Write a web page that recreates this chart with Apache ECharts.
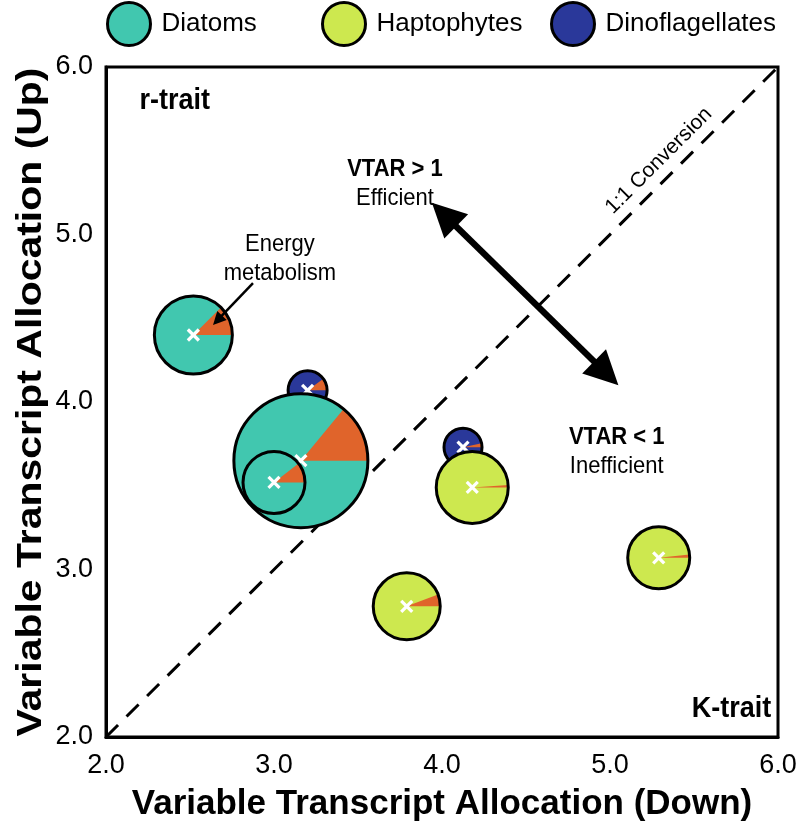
<!DOCTYPE html>
<html><head><meta charset="utf-8">
<script src="https://cdn.jsdelivr.net/npm/echarts@6/dist/echarts.min.js"></script>
<style>html,body{margin:0;padding:0;background:#fff}#c{width:802px;height:831px}</style>
</head><body><div id="c"></div>
<script>
// ---------- data ----------
const groups = ['Diatoms', 'Haptophytes', 'Dinoflagellates'];
const axisTicks = [2.0, 3.0, 4.0, 5.0, 6.0];
const xTitle = 'Variable Transcript Allocation (Down)';
const yTitle = 'Variable Transcript Allocation (Up)';

const diatomDown   = [2.52, 3.16, 3.00];
const diatomUp     = [4.40, 3.65, 3.52];
const diatomSize   = [3.9, 6.7, 3.1];      // relative bubble size
const diatomEnergy = [0.125, 0.14, 0.105]; // energy metabolism share

const haptoDown    = [4.18, 3.79, 5.29];
const haptoUp      = [3.49, 2.78, 3.07];
const haptoSize    = [3.6, 3.35, 3.1];
const haptoEnergy  = [0.011, 0.058, 0.017];

const dinoDown     = [3.20, 4.125];
const dinoUp       = [4.07, 3.73];
const dinoSize     = [1.95, 1.9];
const dinoEnergy   = [0.10, 0.033];

const diagonal = [[2, 2], [6, 6]];
const vtarArrow = [[3.94, 5.19], [5.05, 4.10]];
const energyArrow = [[2.875, 4.71], [2.637, 4.46]];

// annotations: [x, y, text, kind]
const annotations = [
  [2.20, 5.80, 'r-trait', 'boldLeft'],
  [5.96, 2.17, 'K-trait', 'boldRight'],
  [3.72, 5.39, 'VTAR > 1', 'boldCenter'],
  [3.72, 5.215, 'Efficient', 'center'],
  [5.04, 3.79, 'VTAR < 1', 'boldCenter'],
  [5.04, 3.615, 'Inefficient', 'center'],
  [3.035, 4.94, 'Energy', 'center'],
  [3.035, 4.77, 'metabolism', 'center'],
  [5.29, 5.44, '1:1 Conversion', 'rot45']
];

// ---------- styles ----------
const FONT = "'Liberation Sans', Arial, Helvetica, sans-serif";
const COLORS = { Diatoms: '#41C7AF', Haptophytes: '#CDE84F', Dinoflagellates: '#2A389A' };
const ORANGE = '#E0642B';
const RADIUS_UNIT = 10;

function zip(xs, ys, ss, es) { return xs.map((x, i) => [x, ys[i], ss[i], es[i]]); }

function bubbleRender(color) {
  return function (params, api) {
    const p = api.coord([api.value(0), api.value(1)]);
    const r = api.value(2) * RADIUS_UNIT;
    const ang = api.value(3) * 2 * Math.PI;
    const cs = 5.5;
    return {
      type: 'group', children: [
        { type: 'circle', shape: { cx: p[0], cy: p[1], r: r }, style: { fill: color } },
        { type: 'sector', shape: { cx: p[0], cy: p[1], r: r, r0: 0, startAngle: -ang, endAngle: 0, clockwise: true }, style: { fill: ORANGE } },
        { type: 'circle', shape: { cx: p[0], cy: p[1], r: r }, style: { fill: 'none', stroke: '#000', lineWidth: 3 } },
        { type: 'line', shape: { x1: p[0] - cs, y1: p[1] - cs, x2: p[0] + cs, y2: p[1] + cs }, style: { stroke: '#fff', lineWidth: 3.2 } },
        { type: 'line', shape: { x1: p[0] - cs, y1: p[1] + cs, x2: p[0] + cs, y2: p[1] - cs }, style: { stroke: '#fff', lineWidth: 3.2 } }
      ]
    };
  };
}

function arrowHead(tip, from, len, half) {
  const dx = tip[0] - from[0], dy = tip[1] - from[1];
  const L = Math.sqrt(dx * dx + dy * dy);
  const ux = dx / L, uy = dy / L;
  const bx = tip[0] - ux * len, by = tip[1] - uy * len;
  return [[tip[0], tip[1]], [bx - uy * half, by + ux * half], [bx + uy * half, by - ux * half]];
}

function arrowRender(both, lw, len, half) {
  return function (params, api) {
    if (params.dataIndex !== 0) return null;
    const a = api.coord(both ? vtarArrow[0] : energyArrow[0]);
    const b = api.coord(both ? vtarArrow[1] : energyArrow[1]);
    const dx = b[0] - a[0], dy = b[1] - a[1];
    const L = Math.sqrt(dx * dx + dy * dy);
    const ux = dx / L, uy = dy / L;
    const s = both ? [a[0] + ux * len * 0.8, a[1] + uy * len * 0.8] : a;
    const e = [b[0] - ux * len * 0.8, b[1] - uy * len * 0.8];
    const children = [
      { type: 'line', shape: { x1: s[0], y1: s[1], x2: e[0], y2: e[1] }, style: { stroke: '#000', lineWidth: lw } },
      { type: 'polygon', shape: { points: arrowHead(b, a, len, half) }, style: { fill: '#000' } }
    ];
    if (both) children.push({ type: 'polygon', shape: { points: arrowHead(a, b, len, half) }, style: { fill: '#000' } });
    return { type: 'group', children: children };
  };
}

function annotationRender(params, api) {
  const row = annotations[params.dataIndex];
  const p = api.coord([row[0], row[1]]);
  const kind = row[3];
  const bold = kind.indexOf('bold') === 0;
  let align = 'center';
  if (kind === 'boldLeft') align = 'left';
  if (kind === 'boldRight') align = 'right';
  let size = 22;
  if (kind === 'boldLeft' || kind === 'boldRight') size = 27;
  if (kind === 'rot45') size = 21;
  const style = {
    text: row[2], x: 0, y: 0, fill: '#000',
    font: (bold ? 'bold ' : '') + size + 'px ' + FONT,
    align: align, verticalAlign: 'middle'
  };
  return { type: 'text', x: p[0], y: p[1], rotation: kind === 'rot45' ? Math.PI / 4 : 0,
    scaleY: kind === 'rot45' ? 1 : 1.08, style: style };
}

const chart = echarts.init(document.getElementById('c'), null, { renderer: 'canvas' });

const legendBase = {
  icon: 'circle', itemWidth: 43, itemHeight: 43, top: 1, padding: 0,
  itemStyle: { borderColor: '#000', borderWidth: 3 },
  textStyle: { fontSize: 26, color: '#000', fontFamily: FONT, padding: [0, 0, 0, 6] },
  selectedMode: false
};

chart.setOption({
  animation: false,
  backgroundColor: '#fff',
  textStyle: { fontFamily: FONT },
  legend: [
    Object.assign({}, legendBase, { data: [groups[0]], left: 106 }),
    Object.assign({}, legendBase, { data: [groups[1]], left: 321 }),
    Object.assign({}, legendBase, { data: [groups[2]], left: 550 })
  ],
  graphic: [{
    type: 'text', x: 31, y: 402, rotation: Math.PI / 2, scaleX: 1.17,
    style: { text: yTitle, font: 'bold 35px ' + FONT, fill: '#000', align: 'center', verticalAlign: 'middle' }
  }],
  grid: { left: 106, right: 24, top: 67, bottom: 94, show: true, borderColor: '#000', borderWidth: 3, containLabel: false },
  xAxis: {
    type: 'value', min: axisTicks[0], max: axisTicks[axisTicks.length - 1], interval: 1,
    name: xTitle, nameLocation: 'middle', nameGap: 50,
    nameTextStyle: { fontSize: 35, fontWeight: 'bold', color: '#000', fontFamily: FONT },
    axisLine: { show: true, lineStyle: { color: '#000', width: 3 } },
    axisTick: { show: false }, splitLine: { show: false },
    axisLabel: { fontSize: 27, color: '#000', margin: 15, formatter: v => v.toFixed(1), fontFamily: FONT }
  },
  yAxis: {
    type: 'value', min: axisTicks[0], max: axisTicks[axisTicks.length - 1], interval: 1,
    axisLine: { show: true, lineStyle: { color: '#000', width: 3 } },
    axisTick: { show: false }, splitLine: { show: false },
    axisLabel: { fontSize: 27, color: '#000', margin: 13, formatter: v => v.toFixed(1), fontFamily: FONT }
  },
  series: [
    { type: 'line', data: diagonal, symbol: 'none', silent: true, z: 1,
      lineStyle: { color: '#000', width: 3, type: [17, 12] } },
    { name: groups[2], type: 'custom', z: 2, itemStyle: { color: COLORS.Dinoflagellates },
      data: zip(dinoDown, dinoUp, dinoSize, dinoEnergy), encode: { x: 0, y: 1 },
      renderItem: bubbleRender(COLORS.Dinoflagellates) },
    { name: groups[1], type: 'custom', z: 3, itemStyle: { color: COLORS.Haptophytes },
      data: zip(haptoDown, haptoUp, haptoSize, haptoEnergy), encode: { x: 0, y: 1 },
      renderItem: bubbleRender(COLORS.Haptophytes) },
    { name: groups[0], type: 'custom', z: 4, itemStyle: { color: COLORS.Diatoms },
      data: zip(diatomDown, diatomUp, diatomSize, diatomEnergy), encode: { x: 0, y: 1 },
      renderItem: bubbleRender(COLORS.Diatoms) },
    { type: 'custom', z: 5, silent: true, data: [vtarArrow[0]], encode: { x: 0, y: 1 },
      renderItem: arrowRender(true, 6.5, 34, 17) },
    { type: 'custom', z: 6, silent: true, data: [energyArrow[0]], encode: { x: 0, y: 1 },
      renderItem: arrowRender(false, 2.5, 13, 6.5) },
    { type: 'custom', z: 7, silent: true, data: annotations.map(a => [a[0], a[1]]), encode: { x: 0, y: 1 },
      renderItem: annotationRender }
  ]
});
</script>
</body></html>
